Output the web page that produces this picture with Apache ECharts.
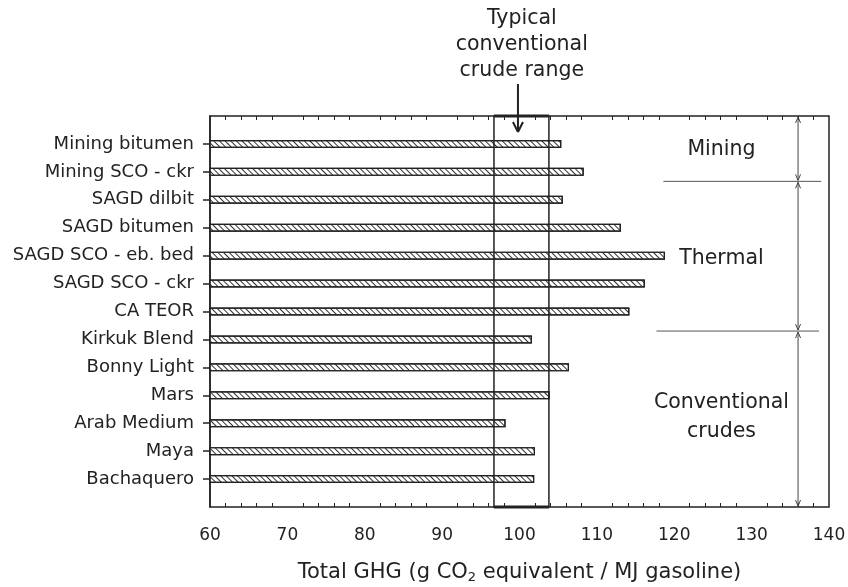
<!DOCTYPE html>
<html>
<head>
<meta charset="utf-8">
<script src="https://cdn.jsdelivr.net/npm/echarts@6/dist/echarts.min.js"></script>
<style>
    html, body { margin: 0; padding: 0; background: #fff; }
    #main { width: 848px; height: 587px; }
</style>
</head>
<body>
<div id="main"></div>
<script>
// 数据
const categories = ['Mining bitumen', 'Mining SCO - ckr', 'SAGD dilbit', 'SAGD bitumen', 'SAGD SCO - eb. bed',
    'SAGD SCO - ckr', 'CA TEOR', 'Kirkuk Blend', 'Bonny Light', 'Mars', 'Arab Medium', 'Maya', 'Bachaquero'];
const ghgValues = [105.4, 108.3, 105.6, 113.1, 118.8, 116.2, 114.2, 101.6, 106.4, 103.9, 98.2, 102.0, 101.9];
const xMin = 60, xMax = 140, xStep = 10;
// typical conventional crude range
const rangeLow = 96.7, rangeHigh = 103.8;
// group boundaries, in category slots (0 = top of plot, 14 = bottom)
const groupBounds = [0, 2.34, 7.7, 14];
const groupNames = ['Mining', 'Thermal', 'Conventional\ncrudes'];
const groupLabelSlots = [1.22, 5.1, 10.8];

(function () {
    const FONT = 'DejaVu Sans';
    const INK = '#222';
    let myechart = echarts.init(document.getElementById('main'));
    // 上下各留一个空位
    const yData = [''].concat(categories, ['']);
    const barData = [null].concat(ghgValues, [null]);

    const xAxisBase = {
        type: 'value',
        min: xMin,
        max: xMax,
        interval: xStep,
        axisLine: { lineStyle: { color: INK, width: 1.5 } },
        axisTick: { inside: true, length: 7, lineStyle: { color: INK, width: 1.5 } },
        minorTick: { show: true, splitNumber: 5, length: 4, lineStyle: { color: INK, width: 1 } },
        splitLine: { show: false },
        minorSplitLine: { show: false }
    };

    var option = {
        animation: false,
        grid: {
            left: 210, right: 19, top: 116, bottom: 80,
            outerBoundsMode: 'none',
            show: true,
            borderColor: INK,
            borderWidth: 1.5
        },
        xAxis: [
            Object.assign({}, xAxisBase, {
                position: 'bottom',
                axisLabel: { color: INK, fontSize: 17, fontFamily: FONT, margin: 20 },
                name: 'Total GHG (g CO{sub|2} equivalent / MJ gasoline)',
                nameLocation: 'middle',
                nameGap: 55,
                nameTextStyle: {
                    color: INK, fontSize: 21, fontFamily: FONT,
                    rich: { sub: { fontSize: 13, fontFamily: FONT, color: INK, verticalAlign: 'bottom', padding: [9, 0, 0, 0] } }
                }
            }),
            Object.assign({}, xAxisBase, {
                position: 'top',
                axisLabel: { show: false }
            })
        ],
        yAxis: {
            type: 'category',
            inverse: true,
            boundaryGap: false,
            data: yData,
            axisLine: { lineStyle: { color: INK, width: 1.5 } },
            axisTick: {
                length: 7,
                interval: function (index, value) { return value !== ''; },
                lineStyle: { color: INK, width: 1.5 }
            },
            axisLabel: { color: INK, fontSize: 18, fontFamily: FONT, margin: 16 }
        },
        series: [
            {
                type: 'bar',
                barWidth: 8,
                data: barData,
                itemStyle: {
                    color: '#fff',
                    borderColor: INK,
                    borderWidth: 1.2,
                    decal: {
                        symbol: 'rect',
                        symbolSize: 1,
                        color: '#333',
                        dashArrayX: [1, 0],
                        dashArrayY: [1, 2.6],
                        rotation: Math.PI / 4
                    }
                }
            }
        ]
    };
    myechart.setOption(option);

    // 注释
    const px = function (v) { return myechart.convertToPixel({ xAxisIndex: 0 }, v); };
    const py = function (f) {
        const i = Math.min(Math.floor(f), yData.length - 2);
        const a = myechart.convertToPixel({ yAxisIndex: 0 }, i);
        const b = myechart.convertToPixel({ yAxisIndex: 0 }, i + 1);
        return a + (b - a) * (f - i);
    };
    const line = function (x1, y1, x2, y2, w, c) {
        return { type: 'line', silent: true, z: 100, shape: { x1: x1, y1: y1, x2: x2, y2: y2 },
            style: { stroke: c || INK, lineWidth: w || 1 } };
    };
    const g = [];
    const top = py(0), bottom = py(14);

    // conventional range box
    g.push({ type: 'rect', silent: true, z: 100,
        shape: { x: px(rangeLow), y: top, width: px(rangeHigh) - px(rangeLow), height: bottom - top },
        style: { fill: null, stroke: INK, lineWidth: 1.5 } });
    g.push(line(px(rangeLow), top, px(rangeHigh), top, 3));
    g.push(line(px(rangeLow), bottom, px(rangeHigh), bottom, 3));

    // title + arrow
    g.push({ type: 'text', silent: true, z: 100, x: px(100.3), y: 6,
        style: { text: 'Typical\nconventional\ncrude range', font: '20.5px "DejaVu Sans"', fill: INK,
            align: 'center', verticalAlign: 'top', lineHeight: 26 } });
    const ax = px(99.8);
    g.push(line(ax, 84, ax, 132, 2));
    g.push(line(ax - 5, 122, ax, 132, 2));
    g.push(line(ax + 5, 122, ax, 132, 2));

    // group separators and double arrows
    const sepX = [[118.6, 139], [117.7, 138.7]];
    g.push(line(px(sepX[0][0]), py(groupBounds[1]), px(sepX[0][1]), py(groupBounds[1]), 1, '#555'));
    g.push(line(px(sepX[1][0]), py(groupBounds[2]), px(sepX[1][1]), py(groupBounds[2]), 1, '#555'));
    const arrowX = px(136);
    for (let k = 0; k < groupNames.length; k++) {
        const y1 = py(groupBounds[k]) + 1, y2 = py(groupBounds[k + 1]) - 1;
        g.push(line(arrowX, y1, arrowX, y2, 1, '#444'));
        g.push(line(arrowX - 2.5, y1 + 6, arrowX, y1, 1, '#444'));
        g.push(line(arrowX + 2.5, y1 + 6, arrowX, y1, 1, '#444'));
        g.push(line(arrowX - 2.5, y2 - 6, arrowX, y2, 1, '#444'));
        g.push(line(arrowX + 2.5, y2 - 6, arrowX, y2, 1, '#444'));
        g.push({ type: 'text', silent: true, z: 100, x: px(126.1), y: py(groupLabelSlots[k]),
            style: { text: groupNames[k], font: '20.5px "DejaVu Sans"', fill: INK,
                align: 'center', verticalAlign: 'middle', lineHeight: 29 } });
    }

    myechart.setOption({ graphic: g });
    window.addEventListener('resize', function () {
        myechart.resize();
    });
})();
</script>
</body>
</html>
